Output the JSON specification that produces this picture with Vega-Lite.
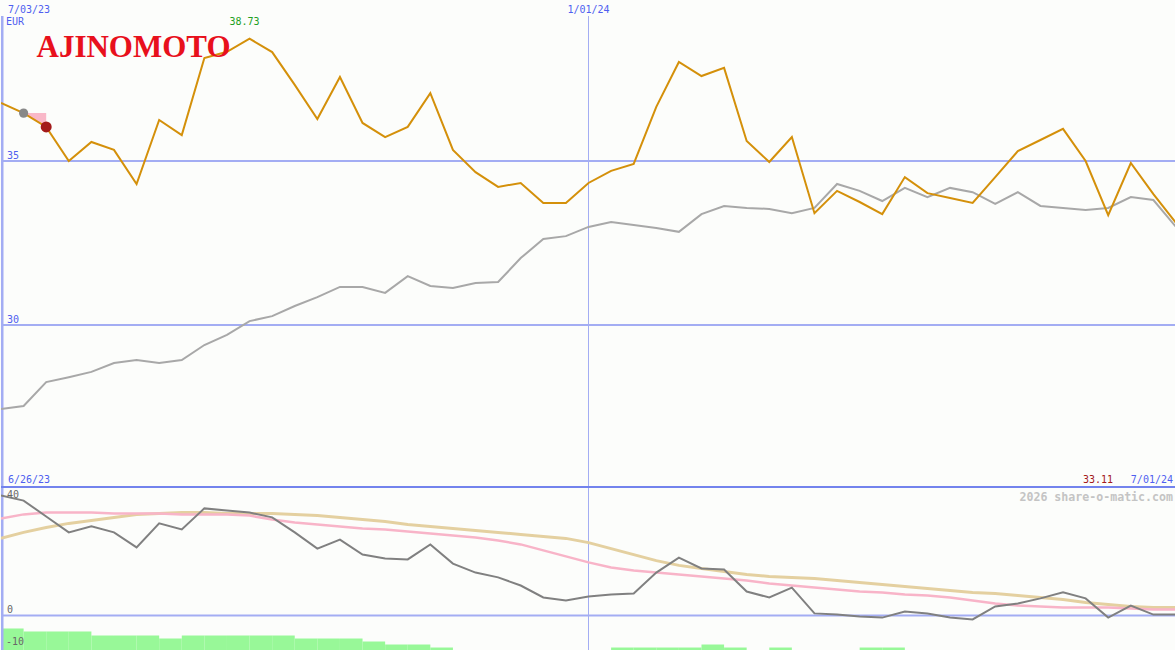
{
  "$schema": "https://vega.github.io/schema/vega-lite/v6.json",
  "background": "#fcfdfb",
  "padding": 0,
  "spacing": 0,
  "bounds": "flush",
  "config": {"view": {"stroke": null}, "text": {"font": "DejaVu Sans Mono", "fontSize": 10}},
  "datasets": {
    "weekly": [
      {"date": "2023-07-03", "price": 36.77, "avg": 27.44, "osc": 40.0, "fast": 32.3, "slow": 25.7},
      {"date": "2023-07-10", "price": 36.46, "avg": 27.53, "osc": 38.3, "fast": 33.7, "slow": 27.7},
      {"date": "2023-07-17", "price": 36.04, "avg": 28.26, "osc": 33.0, "fast": 34.3, "slow": 29.3},
      {"date": "2023-07-24", "price": 35.00, "avg": 28.41, "osc": 27.7, "fast": 34.3, "slow": 30.7},
      {"date": "2023-07-31", "price": 35.58, "avg": 28.57, "osc": 29.7, "fast": 34.3, "slow": 31.7},
      {"date": "2023-08-07", "price": 35.34, "avg": 28.84, "osc": 27.7, "fast": 34.0, "slow": 32.7},
      {"date": "2023-08-14", "price": 34.30, "avg": 28.93, "osc": 22.7, "fast": 34.0, "slow": 33.7},
      {"date": "2023-08-21", "price": 36.25, "avg": 28.84, "osc": 30.7, "fast": 34.0, "slow": 34.0},
      {"date": "2023-08-28", "price": 35.79, "avg": 28.93, "osc": 28.7, "fast": 33.7, "slow": 34.3},
      {"date": "2023-09-04", "price": 38.14, "avg": 29.39, "osc": 35.7, "fast": 33.7, "slow": 34.3},
      {"date": "2023-09-11", "price": 38.33, "avg": 29.70, "osc": 35.0, "fast": 33.7, "slow": 34.0},
      {"date": "2023-09-18", "price": 38.73, "avg": 30.12, "osc": 34.3, "fast": 33.3, "slow": 34.0},
      {"date": "2023-09-25", "price": 38.32, "avg": 30.27, "osc": 32.7, "fast": 32.0, "slow": 34.0},
      {"date": "2023-10-02", "price": 37.32, "avg": 30.58, "osc": 27.7, "fast": 31.0, "slow": 33.7},
      {"date": "2023-10-09", "price": 36.28, "avg": 30.85, "osc": 22.3, "fast": 30.3, "slow": 33.3},
      {"date": "2023-10-16", "price": 37.56, "avg": 31.16, "osc": 25.3, "fast": 29.7, "slow": 32.7},
      {"date": "2023-10-23", "price": 36.16, "avg": 31.16, "osc": 20.3, "fast": 29.0, "slow": 32.0},
      {"date": "2023-10-30", "price": 35.73, "avg": 30.98, "osc": 19.0, "fast": 28.7, "slow": 31.3},
      {"date": "2023-11-06", "price": 36.04, "avg": 31.49, "osc": 18.7, "fast": 28.0, "slow": 30.3},
      {"date": "2023-11-13", "price": 37.07, "avg": 31.19, "osc": 23.7, "fast": 27.3, "slow": 29.7},
      {"date": "2023-11-20", "price": 35.34, "avg": 31.13, "osc": 17.3, "fast": 26.7, "slow": 29.0},
      {"date": "2023-11-27", "price": 34.66, "avg": 31.28, "osc": 14.3, "fast": 26.0, "slow": 28.3},
      {"date": "2023-12-04", "price": 34.21, "avg": 31.31, "osc": 12.7, "fast": 25.0, "slow": 27.7},
      {"date": "2023-12-11", "price": 34.33, "avg": 32.04, "osc": 10.0, "fast": 23.7, "slow": 27.0},
      {"date": "2023-12-18", "price": 33.72, "avg": 32.62, "osc": 6.0, "fast": 21.7, "slow": 26.3},
      {"date": "2023-12-25", "price": 33.72, "avg": 32.71, "osc": 5.0, "fast": 19.7, "slow": 25.7},
      {"date": "2024-01-01", "price": 34.33, "avg": 32.99, "osc": 6.3, "fast": 17.7, "slow": 24.3},
      {"date": "2024-01-08", "price": 34.70, "avg": 33.14, "osc": 7.0, "fast": 16.0, "slow": 22.3},
      {"date": "2024-01-15", "price": 34.91, "avg": 33.05, "osc": 7.3, "fast": 15.0, "slow": 20.3},
      {"date": "2024-01-22", "price": 36.65, "avg": 32.96, "osc": 14.3, "fast": 14.3, "slow": 18.3},
      {"date": "2024-01-29", "price": 38.02, "avg": 32.84, "osc": 19.3, "fast": 13.7, "slow": 16.7},
      {"date": "2024-02-05", "price": 37.59, "avg": 33.38, "osc": 15.7, "fast": 13.0, "slow": 15.7},
      {"date": "2024-02-12", "price": 37.84, "avg": 33.63, "osc": 15.3, "fast": 12.3, "slow": 14.7},
      {"date": "2024-02-19", "price": 35.61, "avg": 33.57, "osc": 8.0, "fast": 11.7, "slow": 13.7},
      {"date": "2024-02-26", "price": 34.97, "avg": 33.54, "osc": 6.0, "fast": 10.7, "slow": 13.0},
      {"date": "2024-03-04", "price": 35.73, "avg": 33.41, "osc": 9.3, "fast": 10.0, "slow": 12.7},
      {"date": "2024-03-11", "price": 33.41, "avg": 33.57, "osc": 0.7, "fast": 9.3, "slow": 12.3},
      {"date": "2024-03-18", "price": 34.09, "avg": 34.30, "osc": 0.3, "fast": 8.7, "slow": 11.7},
      {"date": "2024-03-25", "price": 33.75, "avg": 34.09, "osc": -0.3, "fast": 8.0, "slow": 11.0},
      {"date": "2024-04-01", "price": 33.38, "avg": 33.78, "osc": -0.7, "fast": 7.7, "slow": 10.3},
      {"date": "2024-04-08", "price": 34.51, "avg": 34.18, "osc": 1.3, "fast": 7.0, "slow": 9.7},
      {"date": "2024-04-15", "price": 34.02, "avg": 33.90, "osc": 0.7, "fast": 6.7, "slow": 9.0},
      {"date": "2024-04-22", "price": 33.87, "avg": 34.18, "osc": -0.7, "fast": 6.0, "slow": 8.3},
      {"date": "2024-04-29", "price": 33.72, "avg": 34.05, "osc": -1.3, "fast": 5.0, "slow": 7.7},
      {"date": "2024-05-06", "price": 34.51, "avg": 33.69, "osc": 3.0, "fast": 4.0, "slow": 7.3},
      {"date": "2024-05-13", "price": 35.30, "avg": 34.05, "osc": 4.0, "fast": 3.3, "slow": 6.7},
      {"date": "2024-05-20", "price": 35.64, "avg": 33.63, "osc": 5.7, "fast": 3.0, "slow": 6.0},
      {"date": "2024-05-27", "price": 35.98, "avg": 33.57, "osc": 7.7, "fast": 2.7, "slow": 5.3},
      {"date": "2024-06-03", "price": 35.00, "avg": 33.51, "osc": 5.7, "fast": 2.7, "slow": 4.3},
      {"date": "2024-06-10", "price": 33.35, "avg": 33.57, "osc": -0.7, "fast": 2.7, "slow": 3.7},
      {"date": "2024-06-17", "price": 34.94, "avg": 33.90, "osc": 3.3, "fast": 2.3, "slow": 3.0},
      {"date": "2024-06-24", "price": 33.99, "avg": 33.81, "osc": 0.3, "fast": 2.0, "slow": 2.7},
      {"date": "2024-07-01", "price": 33.11, "avg": 32.99, "osc": 0.3, "fast": 2.0, "slow": 2.7}
    ],
    "volume": [
      {"start": "2023-07-03", "end": "2023-07-10", "v": -4.33},
      {"start": "2023-07-10", "end": "2023-07-17", "v": -5.33},
      {"start": "2023-07-17", "end": "2023-07-24", "v": -5.33},
      {"start": "2023-07-24", "end": "2023-07-31", "v": -5.33},
      {"start": "2023-07-31", "end": "2023-08-07", "v": -6.67},
      {"start": "2023-08-07", "end": "2023-08-14", "v": -6.67},
      {"start": "2023-08-14", "end": "2023-08-21", "v": -6.67},
      {"start": "2023-08-21", "end": "2023-08-28", "v": -7.67},
      {"start": "2023-08-28", "end": "2023-09-04", "v": -6.67},
      {"start": "2023-09-04", "end": "2023-09-11", "v": -6.67},
      {"start": "2023-09-11", "end": "2023-09-18", "v": -6.67},
      {"start": "2023-09-18", "end": "2023-09-25", "v": -6.67},
      {"start": "2023-09-25", "end": "2023-10-02", "v": -6.67},
      {"start": "2023-10-02", "end": "2023-10-09", "v": -7.67},
      {"start": "2023-10-09", "end": "2023-10-16", "v": -7.67},
      {"start": "2023-10-16", "end": "2023-10-23", "v": -7.67},
      {"start": "2023-10-23", "end": "2023-10-30", "v": -8.67},
      {"start": "2023-10-30", "end": "2023-11-06", "v": -9.67},
      {"start": "2023-11-06", "end": "2023-11-13", "v": -9.67},
      {"start": "2023-11-13", "end": "2023-11-20", "v": -10.67},
      {"start": "2024-01-08", "end": "2024-01-15", "v": -10.67},
      {"start": "2024-01-15", "end": "2024-01-22", "v": -10.67},
      {"start": "2024-01-22", "end": "2024-01-29", "v": -10.67},
      {"start": "2024-01-29", "end": "2024-02-05", "v": -10.67},
      {"start": "2024-02-05", "end": "2024-02-12", "v": -9.67},
      {"start": "2024-02-12", "end": "2024-02-19", "v": -10.67},
      {"start": "2024-02-26", "end": "2024-03-04", "v": -10.67},
      {"start": "2024-03-25", "end": "2024-04-01", "v": -10.67},
      {"start": "2024-04-01", "end": "2024-04-08", "v": -10.67}
    ],
    "flag": [
      {"date": "2023-07-10", "price": 36.46},
      {"date": "2023-07-17", "price": 36.04}
    ],
    "dots": [
      {"date": "2023-07-10", "price": 36.46, "kind": "start"},
      {"date": "2023-07-17", "price": 36.04, "kind": "buy"}
    ]
  },
  "vconcat": [
    {
      "width": 1175,
      "height": 487,
      "layer": [
        {
          "data": {"values": [{"level": 30}, {"level": 35}]},
          "mark": {"type": "rule", "color": "#a3adf3", "strokeWidth": 2},
          "encoding": {
            "y": {"field": "level", "type": "quantitative", "scale": {"domain": [25.061, 39.909], "nice": false, "zero": false}, "axis": null}
          }
        },
        {
          "data": {"values": [{}]},
          "mark": {"type": "rule", "color": "#a3adf3", "strokeWidth": 1},
          "encoding": {
            "x": {"datum": {"year": 2024, "month": 1, "date": 1, "utc": true}, "type": "temporal", "scale": {"type": "utc", "domain": [{"year": 2023, "month": 7, "date": 3, "utc": true}, {"year": 2024, "month": 7, "date": 1, "utc": true}], "nice": false}, "axis": null},
            "y": {"datum": 25.061, "type": "quantitative", "scale": {"domain": [25.061, 39.909], "nice": false, "zero": false}, "axis": null},
            "y2": {"datum": 39.42}
          }
        },
        {
          "data": {"values": [{}]},
          "mark": {"type": "rule", "color": "#a3adf3", "strokeWidth": 5, "clip": true},
          "encoding": {
            "x": {"datum": {"year": 2023, "month": 7, "date": 3, "utc": true}, "type": "temporal", "scale": {"type": "utc", "domain": [{"year": 2023, "month": 7, "date": 3, "utc": true}, {"year": 2024, "month": 7, "date": 1, "utc": true}], "nice": false}, "axis": null},
            "y": {"datum": 25.061, "type": "quantitative", "scale": {"domain": [25.061, 39.909], "nice": false, "zero": false}, "axis": null},
            "y2": {"datum": 39.42}
          }
        },
        {
          "data": {"name": "flag"},
          "mark": {"type": "area", "color": "#f9b8c8", "opacity": 1},
          "encoding": {
            "x": {"field": "date", "type": "temporal", "scale": {"type": "utc", "domain": [{"year": 2023, "month": 7, "date": 3, "utc": true}, {"year": 2024, "month": 7, "date": 1, "utc": true}], "nice": false}, "axis": null},
            "y": {"field": "price", "type": "quantitative", "scale": {"domain": [25.061, 39.909], "nice": false, "zero": false}, "axis": null},
            "y2": {"datum": 36.46}
          }
        },
        {
          "data": {"name": "weekly"},
          "mark": {"type": "line", "color": "#a8a8a8", "strokeWidth": 2, "clip": true},
          "encoding": {
            "x": {"field": "date", "type": "temporal", "scale": {"type": "utc", "domain": [{"year": 2023, "month": 7, "date": 3, "utc": true}, {"year": 2024, "month": 7, "date": 1, "utc": true}], "nice": false}, "axis": null},
            "y": {"field": "avg", "type": "quantitative", "scale": {"domain": [25.061, 39.909], "nice": false, "zero": false}, "axis": null}
          }
        },
        {
          "data": {"name": "weekly"},
          "mark": {"type": "line", "color": "#d4900a", "strokeWidth": 2, "clip": true},
          "encoding": {
            "x": {"field": "date", "type": "temporal", "scale": {"type": "utc", "domain": [{"year": 2023, "month": 7, "date": 3, "utc": true}, {"year": 2024, "month": 7, "date": 1, "utc": true}], "nice": false}, "axis": null},
            "y": {"field": "price", "type": "quantitative", "scale": {"domain": [25.061, 39.909], "nice": false, "zero": false}, "axis": null}
          }
        },
        {
          "data": {"name": "dots"},
          "mark": {"type": "circle", "opacity": 1},
          "encoding": {
            "x": {"field": "date", "type": "temporal", "scale": {"type": "utc", "domain": [{"year": 2023, "month": 7, "date": 3, "utc": true}, {"year": 2024, "month": 7, "date": 1, "utc": true}], "nice": false}, "axis": null},
            "y": {"field": "price", "type": "quantitative", "scale": {"domain": [25.061, 39.909], "nice": false, "zero": false}, "axis": null},
            "color": {"field": "kind", "type": "nominal", "scale": {"domain": ["start", "buy"], "range": ["#888888", "#a31a1a"]}, "legend": null},
            "size": {"field": "kind", "type": "nominal", "scale": {"domain": ["start", "buy"], "range": [85, 120]}, "legend": null}
          }
        },
        {
          "data": {"values": [{}]},
          "mark": {"type": "text", "text": "AJINOMOTO", "font": "Liberation Serif", "fontSize": 31, "fontWeight": "bold", "color": "#e8101c", "align": "left", "baseline": "alphabetic"},
          "encoding": {
            "x": {"datum": {"year": 2023, "month": 7, "date": 14, "utc": true}, "type": "temporal", "scale": {"type": "utc", "domain": [{"year": 2023, "month": 7, "date": 3, "utc": true}, {"year": 2024, "month": 7, "date": 1, "utc": true}], "nice": false}, "axis": null},
            "y": {"datum": 38.17, "type": "quantitative", "scale": {"domain": [25.061, 39.909], "nice": false, "zero": false}, "axis": null}
          }
        },
        {
          "data": {"values": [{}]},
          "mark": {"type": "text", "text": "7/03/23", "color": "#4f5ff0", "align": "left", "baseline": "alphabetic", "dx": 7},
          "encoding": {
            "x": {"datum": {"year": 2023, "month": 7, "date": 3, "utc": true}, "type": "temporal", "scale": {"type": "utc", "domain": [{"year": 2023, "month": 7, "date": 3, "utc": true}, {"year": 2024, "month": 7, "date": 1, "utc": true}], "nice": false}, "axis": null},
            "y": {"datum": 39.51, "type": "quantitative", "scale": {"domain": [25.061, 39.909], "nice": false, "zero": false}, "axis": null}
          }
        },
        {
          "data": {"values": [{}]},
          "mark": {"type": "text", "text": "EUR", "color": "#4f5ff0", "align": "left", "baseline": "alphabetic", "dx": 5},
          "encoding": {
            "x": {"datum": {"year": 2023, "month": 7, "date": 3, "utc": true}, "type": "temporal", "scale": {"type": "utc", "domain": [{"year": 2023, "month": 7, "date": 3, "utc": true}, {"year": 2024, "month": 7, "date": 1, "utc": true}], "nice": false}, "axis": null},
            "y": {"datum": 39.15, "type": "quantitative", "scale": {"domain": [25.061, 39.909], "nice": false, "zero": false}, "axis": null}
          }
        },
        {
          "data": {"values": [{}]},
          "mark": {"type": "text", "text": "1/01/24", "color": "#4f5ff0", "align": "center", "baseline": "alphabetic"},
          "encoding": {
            "x": {"datum": {"year": 2024, "month": 1, "date": 1, "utc": true}, "type": "temporal", "scale": {"type": "utc", "domain": [{"year": 2023, "month": 7, "date": 3, "utc": true}, {"year": 2024, "month": 7, "date": 1, "utc": true}], "nice": false}, "axis": null},
            "y": {"datum": 39.51, "type": "quantitative", "scale": {"domain": [25.061, 39.909], "nice": false, "zero": false}, "axis": null}
          }
        },
        {
          "data": {"values": [{}]},
          "mark": {"type": "text", "text": "38.73", "color": "#22a022", "align": "center", "baseline": "alphabetic", "dx": -5},
          "encoding": {
            "x": {"datum": {"year": 2023, "month": 9, "date": 18, "utc": true}, "type": "temporal", "scale": {"type": "utc", "domain": [{"year": 2023, "month": 7, "date": 3, "utc": true}, {"year": 2024, "month": 7, "date": 1, "utc": true}], "nice": false}, "axis": null},
            "y": {"datum": 39.15, "type": "quantitative", "scale": {"domain": [25.061, 39.909], "nice": false, "zero": false}, "axis": null}
          }
        },
        {
          "data": {"values": [{"t": "35", "level": 35}, {"t": "30", "level": 30}]},
          "mark": {"type": "text", "color": "#4f5ff0", "align": "left", "baseline": "alphabetic", "dx": 6, "dy": -2},
          "encoding": {
            "text": {"field": "t"},
            "x": {"datum": {"year": 2023, "month": 7, "date": 3, "utc": true}, "type": "temporal", "scale": {"type": "utc", "domain": [{"year": 2023, "month": 7, "date": 3, "utc": true}, {"year": 2024, "month": 7, "date": 1, "utc": true}], "nice": false}, "axis": null},
            "y": {"field": "level", "type": "quantitative", "scale": {"domain": [25.061, 39.909], "nice": false, "zero": false}, "axis": null}
          }
        },
        {
          "data": {"values": [{}]},
          "mark": {"type": "text", "text": "6/26/23", "color": "#4f5ff0", "align": "left", "baseline": "alphabetic", "dx": 7, "dy": -4},
          "encoding": {
            "x": {"datum": {"year": 2023, "month": 7, "date": 3, "utc": true}, "type": "temporal", "scale": {"type": "utc", "domain": [{"year": 2023, "month": 7, "date": 3, "utc": true}, {"year": 2024, "month": 7, "date": 1, "utc": true}], "nice": false}, "axis": null},
            "y": {"datum": 25.061, "type": "quantitative", "scale": {"domain": [25.061, 39.909], "nice": false, "zero": false}, "axis": null}
          }
        },
        {
          "data": {"values": [{}]},
          "mark": {"type": "text", "text": "7/01/24", "color": "#4f5ff0", "align": "right", "baseline": "alphabetic", "dx": -3, "dy": -4},
          "encoding": {
            "x": {"datum": {"year": 2024, "month": 7, "date": 1, "utc": true}, "type": "temporal", "scale": {"type": "utc", "domain": [{"year": 2023, "month": 7, "date": 3, "utc": true}, {"year": 2024, "month": 7, "date": 1, "utc": true}], "nice": false}, "axis": null},
            "y": {"datum": 25.061, "type": "quantitative", "scale": {"domain": [25.061, 39.909], "nice": false, "zero": false}, "axis": null}
          }
        },
        {
          "data": {"values": [{}]},
          "mark": {"type": "text", "text": "33.11", "color": "#a31a1a", "align": "right", "baseline": "alphabetic", "dx": -63, "dy": -4},
          "encoding": {
            "x": {"datum": {"year": 2024, "month": 7, "date": 1, "utc": true}, "type": "temporal", "scale": {"type": "utc", "domain": [{"year": 2023, "month": 7, "date": 3, "utc": true}, {"year": 2024, "month": 7, "date": 1, "utc": true}], "nice": false}, "axis": null},
            "y": {"datum": 25.061, "type": "quantitative", "scale": {"domain": [25.061, 39.909], "nice": false, "zero": false}, "axis": null}
          }
        }
      ]
    },
    {
      "width": 1175,
      "height": 163,
      "layer": [
        {
          "data": {"name": "volume"},
          "mark": {"type": "bar", "color": "#98f898", "clip": true},
          "encoding": {
            "x": {"field": "start", "type": "temporal", "scale": {"type": "utc", "domain": [{"year": 2023, "month": 7, "date": 3, "utc": true}, {"year": 2024, "month": 7, "date": 1, "utc": true}], "nice": false}, "axis": null},
            "x2": {"field": "end"},
            "y": {"field": "v", "type": "quantitative", "scale": {"domain": [-11.5, 42.83], "nice": false, "zero": false}, "axis": null},
            "y2": {"datum": -11.5}
          }
        },
        {
          "data": {"values": [{}]},
          "mark": {"type": "rule", "color": "#a3adf3", "strokeWidth": 2},
          "encoding": {
            "y": {"datum": 0, "type": "quantitative", "scale": {"domain": [-11.5, 42.83], "nice": false, "zero": false}, "axis": null}
          }
        },
        {
          "data": {"values": [{}]},
          "mark": {"type": "rule", "color": "#a3adf3", "strokeWidth": 1},
          "encoding": {
            "x": {"datum": {"year": 2024, "month": 1, "date": 1, "utc": true}, "type": "temporal", "scale": {"type": "utc", "domain": [{"year": 2023, "month": 7, "date": 3, "utc": true}, {"year": 2024, "month": 7, "date": 1, "utc": true}], "nice": false}, "axis": null}
          }
        },
        {
          "data": {"values": [{}]},
          "mark": {"type": "rule", "color": "#a3adf3", "strokeWidth": 5, "clip": true},
          "encoding": {
            "x": {"datum": {"year": 2023, "month": 7, "date": 3, "utc": true}, "type": "temporal", "scale": {"type": "utc", "domain": [{"year": 2023, "month": 7, "date": 3, "utc": true}, {"year": 2024, "month": 7, "date": 1, "utc": true}], "nice": false}, "axis": null}
          }
        },
        {
          "data": {"name": "weekly"},
          "mark": {"type": "line", "color": "#e4d0a0", "strokeWidth": 3, "clip": true},
          "encoding": {
            "x": {"field": "date", "type": "temporal", "scale": {"type": "utc", "domain": [{"year": 2023, "month": 7, "date": 3, "utc": true}, {"year": 2024, "month": 7, "date": 1, "utc": true}], "nice": false}, "axis": null},
            "y": {"field": "slow", "type": "quantitative", "scale": {"domain": [-11.5, 42.83], "nice": false, "zero": false}, "axis": null}
          }
        },
        {
          "data": {"name": "weekly"},
          "mark": {"type": "line", "color": "#f8b4c8", "strokeWidth": 2.5, "clip": true},
          "encoding": {
            "x": {"field": "date", "type": "temporal", "scale": {"type": "utc", "domain": [{"year": 2023, "month": 7, "date": 3, "utc": true}, {"year": 2024, "month": 7, "date": 1, "utc": true}], "nice": false}, "axis": null},
            "y": {"field": "fast", "type": "quantitative", "scale": {"domain": [-11.5, 42.83], "nice": false, "zero": false}, "axis": null}
          }
        },
        {
          "data": {"name": "weekly"},
          "mark": {"type": "line", "color": "#808080", "strokeWidth": 2, "clip": true},
          "encoding": {
            "x": {"field": "date", "type": "temporal", "scale": {"type": "utc", "domain": [{"year": 2023, "month": 7, "date": 3, "utc": true}, {"year": 2024, "month": 7, "date": 1, "utc": true}], "nice": false}, "axis": null},
            "y": {"field": "osc", "type": "quantitative", "scale": {"domain": [-11.5, 42.83], "nice": false, "zero": false}, "axis": null}
          }
        },
        {
          "data": {"values": [{}]},
          "mark": {"type": "rule", "color": "#7383ed", "strokeWidth": 2},
          "encoding": {
            "y": {"datum": 42.83, "type": "quantitative", "scale": {"domain": [-11.5, 42.83], "nice": false, "zero": false}, "axis": null}
          }
        },
        {
          "data": {"values": [{}]},
          "mark": {"type": "text", "text": "40", "color": "#686868", "align": "left", "baseline": "alphabetic", "dx": 6, "dy": 3},
          "encoding": {
            "x": {"datum": {"year": 2023, "month": 7, "date": 3, "utc": true}, "type": "temporal", "scale": {"type": "utc", "domain": [{"year": 2023, "month": 7, "date": 3, "utc": true}, {"year": 2024, "month": 7, "date": 1, "utc": true}], "nice": false}, "axis": null},
            "y": {"datum": 40, "type": "quantitative", "scale": {"domain": [-11.5, 42.83], "nice": false, "zero": false}, "axis": null}
          }
        },
        {
          "data": {"values": [{}]},
          "mark": {"type": "text", "text": "0", "color": "#686868", "align": "left", "baseline": "alphabetic", "dx": 6, "dy": -2},
          "encoding": {
            "x": {"datum": {"year": 2023, "month": 7, "date": 3, "utc": true}, "type": "temporal", "scale": {"type": "utc", "domain": [{"year": 2023, "month": 7, "date": 3, "utc": true}, {"year": 2024, "month": 7, "date": 1, "utc": true}], "nice": false}, "axis": null},
            "y": {"datum": 0, "type": "quantitative", "scale": {"domain": [-11.5, 42.83], "nice": false, "zero": false}, "axis": null}
          }
        },
        {
          "data": {"values": [{}]},
          "mark": {"type": "text", "text": "-10", "color": "#686868", "align": "left", "baseline": "alphabetic", "dx": 5},
          "encoding": {
            "x": {"datum": {"year": 2023, "month": 7, "date": 3, "utc": true}, "type": "temporal", "scale": {"type": "utc", "domain": [{"year": 2023, "month": 7, "date": 3, "utc": true}, {"year": 2024, "month": 7, "date": 1, "utc": true}], "nice": false}, "axis": null},
            "y": {"datum": -10, "type": "quantitative", "scale": {"domain": [-11.5, 42.83], "nice": false, "zero": false}, "axis": null}
          }
        },
        {
          "data": {"values": [{}]},
          "mark": {"type": "text", "text": "2026 share-o-matic.com", "color": "#c4c4c4", "fontSize": 11.6, "fontWeight": "bold", "align": "right", "baseline": "alphabetic", "dx": -3},
          "encoding": {
            "x": {"datum": {"year": 2024, "month": 7, "date": 1, "utc": true}, "type": "temporal", "scale": {"type": "utc", "domain": [{"year": 2023, "month": 7, "date": 3, "utc": true}, {"year": 2024, "month": 7, "date": 1, "utc": true}], "nice": false}, "axis": null},
            "y": {"datum": 38.17, "type": "quantitative", "scale": {"domain": [-11.5, 42.83], "nice": false, "zero": false}, "axis": null}
          }
        }
      ]
    }
  ]
}
